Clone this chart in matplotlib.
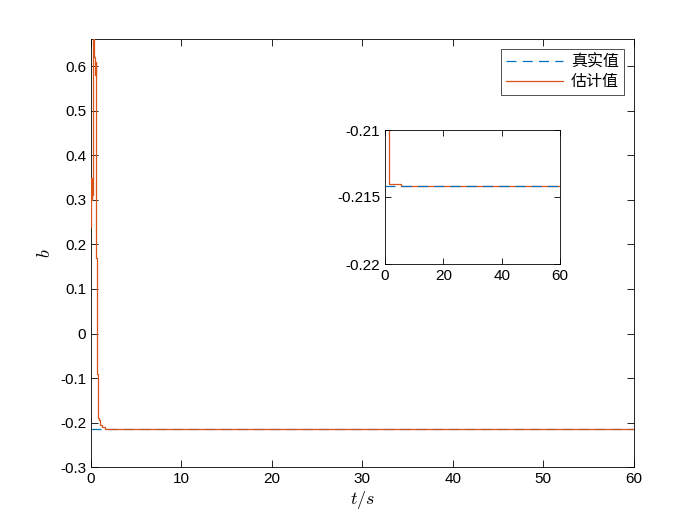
import numpy as np
import matplotlib.pyplot as plt

plt.rcParams['font.family'] = ['Liberation Sans', 'Noto Sans CJK SC', 'DejaVu Sans']
plt.rcParams['mathtext.fontset'] = 'cm'

# true value of b
t_true = [0, 60]
b_true = [-0.2142, -0.2142]

# estimated b (step-like)
t_est = [0, 0.05, 0.1, 0.15, 0.25, 0.35, 0.45, 0.5, 0.55, 0.62, 0.68, 0.72, 0.8, 0.9, 1.0, 1.2, 1.5, 5.4, 60]
b_est = [0.24, 0.35, 0.30, 0.31, 0.66, 0.62, 0.58, 0.61, 0.17, 0.17, -0.09, -0.18, -0.19, -0.195, -0.205, -0.21, -0.2140, -0.2142, -0.2142]

c_true = '#0072BD'
c_est = '#D95319'

fig = plt.figure(figsize=(7, 5.25), dpi=100)
ax = fig.add_axes([0.13, 0.11, 0.775, 0.815])
ax.plot(t_true, b_true, color=c_true, lw=0.9, dashes=(8, 5), label='真实值', zorder=2)
ax.plot(t_est, b_est, '-', color=c_est, lw=0.9, drawstyle='steps-post', label='估计值', zorder=3)
ax.set_xlim(0, 60)
ax.set_ylim(-0.3, 0.66)
ax.set_xticks(np.arange(0, 61, 10))
ax.set_yticks(np.round(np.arange(-0.3, 0.61, 0.1), 1))
ax.set_yticklabels(['-0.3', '-0.2', '-0.1', '0', '0.1', '0.2', '0.3', '0.4', '0.5', '0.6'])
ax.tick_params(direction='in', top=True, right=True, labelsize=11, length=5, width=0.6)
for s in ax.spines.values():
    s.set_linewidth(0.6)
ax.set_xlabel('$t/s$', fontsize=13, labelpad=2)
ax.set_ylabel('$b$', fontsize=13)
leg = ax.legend(loc='upper right', fancybox=False, edgecolor='black',
                borderaxespad=0.6, handlelength=3.6, borderpad=0.3, labelspacing=0.15,
                handletextpad=0.5, prop={'family': ['Noto Sans CJK SC'], 'size': 11.5})
leg.get_frame().set_linewidth(0.6)

# inset
ax2 = fig.add_axes([385 / 700, 1 - 264 / 525, 175 / 700, 134 / 525])
ax2.plot(t_true, b_true, color=c_true, lw=0.9, dashes=(8, 5), zorder=3)
ax2.plot(t_est, b_est, '-', color=c_est, lw=0.9, drawstyle='steps-post', zorder=2)
ax2.set_xlim(0, 60)
ax2.set_ylim(-0.22, -0.21)
ax2.set_xticks([0, 20, 40, 60])
ax2.set_yticks([-0.22, -0.215, -0.21])
ax2.set_yticklabels(['-0.22', '-0.215', '-0.21'])
ax2.tick_params(direction='in', top=True, right=True, labelsize=11, length=4, width=0.6)
for s in ax2.spines.values():
    s.set_linewidth(0.6)

fig.savefig('out.png', dpi=100)
